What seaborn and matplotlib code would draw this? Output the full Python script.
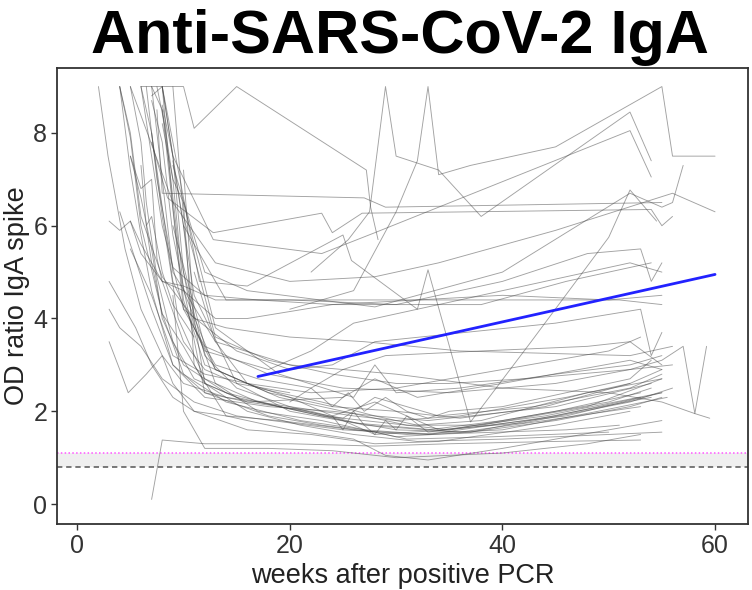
import numpy as np
import pandas as pd
import matplotlib
matplotlib.use("Agg")
import matplotlib.pyplot as plt
import seaborn as sns

# ---------------- data (weeks after PCR, OD ratio IgA spike) ----------------
p01_w = [2, 2.9, 4.5, 6, 8, 10, 14, 20, 26, 30, 36, 46, 52]
p01_v = [9, 7.5, 5.5, 4.2, 3.2, 2.6, 2.3, 2.1, 1.9, 1.8, 1.9, 2.3, 2.6]
p02_w = [4, 5, 6, 7, 9, 12, 16, 22, 27, 33, 40, 50, 54]
p02_v = [9, 7.2, 5.8, 4.6, 3.0, 2.4, 2.2, 2.0, 1.7, 1.6, 1.8, 2.2, 2.5]
p03_w = [5, 6, 6.5, 7.5, 9, 11, 15, 21, 25, 28, 35, 45, 53]
p03_v = [9, 7.8, 6.5, 4.9, 3.5, 2.7, 2.3, 2.0, 1.8, 1.5, 1.6, 2.0, 2.4]
p04_w = [7, 8, 9, 10, 12, 17, 23, 28, 32, 38, 48, 55]
p04_v = [8.8, 9, 6.4, 4.4, 3.0, 2.5, 2.2, 1.9, 1.7, 1.8, 2.4, 2.7]
p05_w = [7.5, 8.2, 9.5, 11, 13, 18, 24, 30, 36, 44, 52, 55]
p05_v = [9, 8.2, 5.6, 3.8, 2.9, 2.4, 2.1, 2.0, 1.85, 2.1, 2.6, 2.9]
p06_w = [3, 4, 5.5, 7, 9, 11, 14, 19, 26, 31, 40, 49, 55.5]
p06_v = [4.8, 4.4, 3.8, 3.0, 2.3, 2.0, 1.9, 1.8, 1.6, 1.5, 1.6, 2.0, 2.3]
p07_w = [3, 4, 4.8, 6.5, 8, 9, 11, 16, 22, 28, 34, 45, 52]
p07_v = [3.5, 2.9, 2.4, 2.8, 3.2, 2.6, 2.0, 1.6, 1.5, 1.3, 1.35, 1.7, 2.0]
p08_w = [7, 8, 12, 20, 28, 35, 45, 53]
p08_v = [0.1, 1.38, 1.3, 1.3, 1.25, 1.3, 1.35, 1.38]
p09_w = [9, 10, 12, 18, 24, 30, 40, 48, 53]
p09_v = [4.5, 2.0, 1.2, 1.2, 1.15, 1.0, 1.1, 1.3, 1.5]
p10_w = [10, 11, 14, 20, 26, 29, 33, 40, 50, 55]
p10_v = [6.5, 3.0, 1.9, 1.6, 1.4, 1.05, 0.95, 1.2, 1.6, 1.8]
p11_w = [8, 9, 10, 12, 15, 20, 25, 30, 37, 45, 52, 55]
p11_v = [9, 7.5, 5.0, 3.2, 2.5, 2.1, 1.8, 1.6, 1.55, 1.8, 2.1, 2.3]
p12_w = [4, 5, 6, 8, 11, 14, 20, 27, 36, 52, 56]
p12_v = [9, 8.0, 6.2, 4.9, 4.0, 3.8, 3.6, 3.5, 3.3, 3.2, 3.4]
p13_w = [6.5, 7.5, 9, 12, 17, 24, 30, 38, 46, 54]
p13_v = [9, 7, 5.1, 4.5, 4.4, 4.3, 4.3, 4.3, 4.8, 5.2]
p14_w = [5, 6, 8, 10, 13, 16, 24, 32, 40, 50, 55]
p14_v = [6.1, 5.6, 4.8, 4.6, 4.0, 4.0, 4.3, 4.4, 4.5, 4.4, 4.5]
p15_w = [3, 4, 5, 6, 8, 10, 13, 20, 30, 40, 51, 55]
p15_v = [6.1, 5.9, 6.1, 5.4, 4.8, 4.7, 4.4, 4.4, 4.4, 4.4, 4.4, 4.3]
p16_w = [6, 10, 11, 15, 27.2, 27.6, 28.3]
p16_v = [9, 9, 8.1, 9, 7.2, 6.4, 5.7]
p17_w = [22, 25.5, 27.5, 29, 30, 34, 38, 52, 54]
p17_v = [5.0, 5.7, 6.3, 9, 7.5, 7.2, 6.2, 8.45, 7.4]
p18_w = [20, 26, 30, 32, 33, 34, 37, 45, 55, 56, 60]
p18_v = [4.2, 4.6, 6.3, 7.4, 9, 7.1, 7.3, 7.7, 9, 7.5, 7.5]
p19_w = [7.5, 8, 27, 29, 55]
p19_v = [8.5, 6.7, 6.6, 6.4, 6.5]
p20_w = [7, 8.5, 12.8, 23, 24, 25, 26.8, 54, 55, 56]
p20_v = [7.8, 6.6, 5.85, 6.27, 5.85, 6.0, 6.27, 6.35, 6.0, 6.2]
p21_w = [8, 9, 12.8, 23, 28, 52, 54]
p21_v = [8.6, 7.5, 5.7, 5.4, 5.85, 8.05, 7.05]
p22_w = [8, 11.5, 16, 25, 25.8, 32, 33, 37, 42.7, 50, 52, 54.5]
p22_v = [9, 4.8, 4.7, 5.8, 5.25, 4.2, 5.05, 1.77, 3.5, 5.75, 6.77, 6.1]
p23_w = [9, 12, 16, 28, 40, 52, 55, 56, 57]
p23_v = [7.3, 5.0, 4.6, 4.25, 5.0, 6.7, 6.4, 6.5, 7.3]
p24_w = [5, 9, 13, 20, 28, 34, 45, 56, 60]
p24_v = [9, 6.5, 5.2, 4.8, 4.9, 5.2, 5.9, 6.7, 6.3]
p25_w = [10, 14, 20, 30, 40, 48, 53, 54, 55]
p25_v = [6, 4.4, 4.4, 4.3, 4.8, 5.4, 5.5, 4.8, 5.2]
p26_w = [7, 9, 12, 18, 22, 26, 40, 52, 55]
p26_v = [8, 4.8, 3.3, 2.9, 3.3, 3.9, 4.6, 5.2, 5.0]
p27_w = [6, 8, 10, 15, 20, 24, 28, 45, 53, 54, 55]
p27_v = [9, 6, 4.2, 3.3, 2.9, 3.0, 3.5, 3.9, 4.2, 3.2, 3.7]
p28_w = [8, 10, 13, 17, 22, 25, 29, 38, 48, 52, 55]
p28_v = [8.5, 4.2, 3.0, 2.7, 2.5, 2.9, 3.2, 3.3, 3.4, 3.5, 3.0]
p29_w = [5, 7, 9, 12, 16, 22, 30, 40, 50, 53]
p29_v = [5.5, 4.5, 3.2, 2.8, 2.6, 2.4, 2.5, 2.9, 3.3, 3.6]
p30_w = [9, 10, 13, 18, 24, 30, 35, 42, 52, 56]
p30_v = [9, 6.2, 3.6, 3.1, 2.8, 2.6, 2.6, 2.7, 2.9, 3.0]
p31_w = [4, 5, 7, 9, 12, 18, 24, 28, 33, 45, 54]
p31_v = [6.3, 5.6, 4.2, 3.0, 2.3, 2.1, 2.0, 1.9, 1.8, 2.1, 2.6]
p32_w = [6, 7, 8, 9.5, 12, 17, 23, 29, 35, 46, 55]
p32_v = [9, 8.0, 6.2, 4.0, 2.7, 2.2, 1.9, 1.75, 1.6, 1.9, 2.4]
p33_w = [7, 8, 9, 10, 13, 19, 25, 31, 38, 48, 55]
p33_v = [9, 8.5, 7.0, 4.6, 2.9, 2.3, 2.0, 1.7, 1.7, 2.1, 2.7]
p34_w = [4, 5, 6, 8, 10, 14, 21, 27, 33, 45, 53]
p34_v = [9, 7.9, 6.0, 4.1, 2.8, 2.2, 1.8, 1.6, 1.5, 1.9, 2.3]
p35_w = [8, 9, 11, 15, 20, 26, 31, 36, 44, 53]
p35_v = [9, 7.5, 4.5, 2.6, 2.0, 1.75, 1.65, 1.55, 1.8, 2.1]
p36_w = [5, 6, 7, 8, 10, 14, 19, 25, 28, 34, 43, 52, 55]
p36_v = [7.5, 6.6, 5.5, 4.0, 3.0, 2.4, 2.1, 1.85, 2.3, 1.9, 2.1, 2.5, 2.8]
p37_w = [9, 10, 11, 13, 17, 23, 27, 30, 37, 47, 54]
p37_v = [7.4, 6.0, 3.9, 2.6, 2.0, 1.8, 1.6, 1.45, 1.55, 2.0, 2.3]
p38_w = [3, 4, 6, 8, 11, 15, 20, 25, 33, 46, 51]
p38_v = [4.2, 3.8, 3.4, 2.7, 2.2, 1.9, 1.75, 1.6, 1.5, 1.6, 1.7]
p39_w = [6.5, 7, 8, 10, 12, 16, 21, 26, 32, 40, 50, 55]
p39_v = [6, 5.2, 4.1, 3.4, 2.6, 2.0, 1.7, 1.5, 1.35, 1.4, 1.5, 1.55]
p40_w = [7, 8, 9, 12, 18, 23, 28, 31, 39, 50]
p40_v = [8.7, 7.8, 5.8, 2.4, 1.9, 1.7, 1.55, 1.4, 1.45, 1.55]
p41_w = [10, 11, 12, 16, 25, 28, 32, 40, 52, 55]
p41_v = [7.2, 4.0, 2.6, 2.2, 2.3, 2.7, 2.3, 2.6, 3.1, 2.9]
p42_w = [8, 9, 10, 13, 19, 26, 28, 30, 36, 45, 52, 55]
p42_v = [8.2, 7.0, 6.5, 3.8, 2.8, 2.3, 3.0, 2.4, 2.5, 2.8, 3.0, 3.2]
p43_w = [9, 12, 18, 25, 35, 45, 52, 55, 57, 58.1, 59.2]
p43_v = [6.0, 3.4, 2.8, 2.5, 2.4, 2.6, 2.9, 3.1, 3.4, 1.95, 3.4]
p44_w = [7, 9, 13, 20, 30, 40, 50, 55, 58.1, 59.5]
p44_v = [9, 5.0, 3.5, 3.0, 2.8, 2.5, 2.4, 2.2, 1.95, 1.85]
p45_w = [11, 13, 16, 20, 24, 28, 34, 42, 52, 56]
p45_v = [5.0, 3.5, 2.6, 2.3, 1.9, 2.2, 1.6, 1.75, 2.2, 2.5]
p46_w = [5, 6, 7, 7.5, 8, 10, 12, 15, 20]
p46_v = [7.5, 6.8, 7.0, 5.3, 4.8, 3.5, 2.9, 2.6, 2.4]
p47_w = [6, 6.5, 7, 8, 9, 11]
p47_v = [7.3, 6.0, 6.2, 5.0, 4.3, 3.6]
p48_w = [24, 25, 26, 27, 28, 29, 30, 31, 33, 36, 44, 55]
p48_v = [1.9, 1.6, 2.0, 1.7, 1.5, 1.8, 1.6, 1.9, 1.55, 1.65, 1.9, 2.4]
p49_w = [20, 22, 24, 25.5, 27, 29, 31, 33, 35, 40, 52, 54]
p49_v = [2.2, 2.5, 2.1, 2.4, 2.0, 2.3, 2.0, 1.85, 2.0, 2.1, 2.7, 3.1]
n_patients = 49

trend_w = [17, 60]          # linear fit shown in blue
trend_v = [2.75, 4.95]
cutoff_positive = 1.1       # magenta dotted
cutoff_negative = 0.8       # dashed grey

x_ticks = [0, 20, 40, 60]
y_ticks = [0, 2, 4, 6, 8]

# ---------------- build long table ----------------
rows = []
g = globals()
for i in range(1, n_patients + 1):
    w = g[f"p{i:02d}_w"]
    v = g[f"p{i:02d}_v"]
    for a, b in zip(w, v):
        rows.append((f"P{i:02d}", a, b))
df = pd.DataFrame(rows, columns=["patient", "week", "od"])
trend = pd.DataFrame({"week": trend_w, "od": trend_v})

# ---------------- figure ----------------
sns.set_theme(style="white")
plt.rcParams["font.family"] = ["Liberation Sans", "DejaVu Sans"]

fig = plt.figure(figsize=(7.52, 5.90), dpi=100)
ax = fig.add_axes([57 / 752, 1 - 524 / 590, (748 - 57) / 752, (524 - 68) / 590])

ax.set_xlim(-1.9, 63.1)
ax.set_ylim(-0.43, 9.4)

ax.axhspan(cutoff_negative, cutoff_positive, color="#efefef", zorder=0, lw=0)
ax.axhline(cutoff_positive, color="#ff55ff", ls=(0, (1, 1.5)), lw=1.1, zorder=1)
ax.axhline(cutoff_negative, color="#555555", ls=(0, (3.5, 2.5)), lw=1.1, zorder=1)

sns.lineplot(data=df, x="week", y="od", units="patient", estimator=None,
             sort=False, color="#444444", alpha=0.5, lw=0.65, ax=ax, zorder=2)
sns.lineplot(data=trend, x="week", y="od", color="#2222ff", lw=2.0, ax=ax, zorder=3)

ax.set_xticks(x_ticks)
ax.set_yticks(y_ticks)
ax.tick_params(axis="both", which="both", direction="out", length=4, width=1,
               color="#333333", labelsize=18, labelcolor="#333333",
               bottom=True, left=True, pad=3)
for s in ax.spines.values():
    s.set_visible(True)
    s.set_color("#333333")
    s.set_linewidth(1.3)

ax.set_xlabel("weeks after positive PCR", fontsize=19.5, color="#222222", labelpad=4)
ax.set_ylabel("OD ratio IgA spike", fontsize=19.5, color="#222222", labelpad=2)
ax.grid(False)

fig.text(0.532, 1 - 37 / 590, "Anti-SARS-CoV-2 IgA", ha="center", va="center",
         fontsize=44, fontweight="bold", color="black",
         family=["Liberation Sans Narrow", "Liberation Sans", "DejaVu Sans"])

fig.savefig("out.png", dpi=100, facecolor="white")
